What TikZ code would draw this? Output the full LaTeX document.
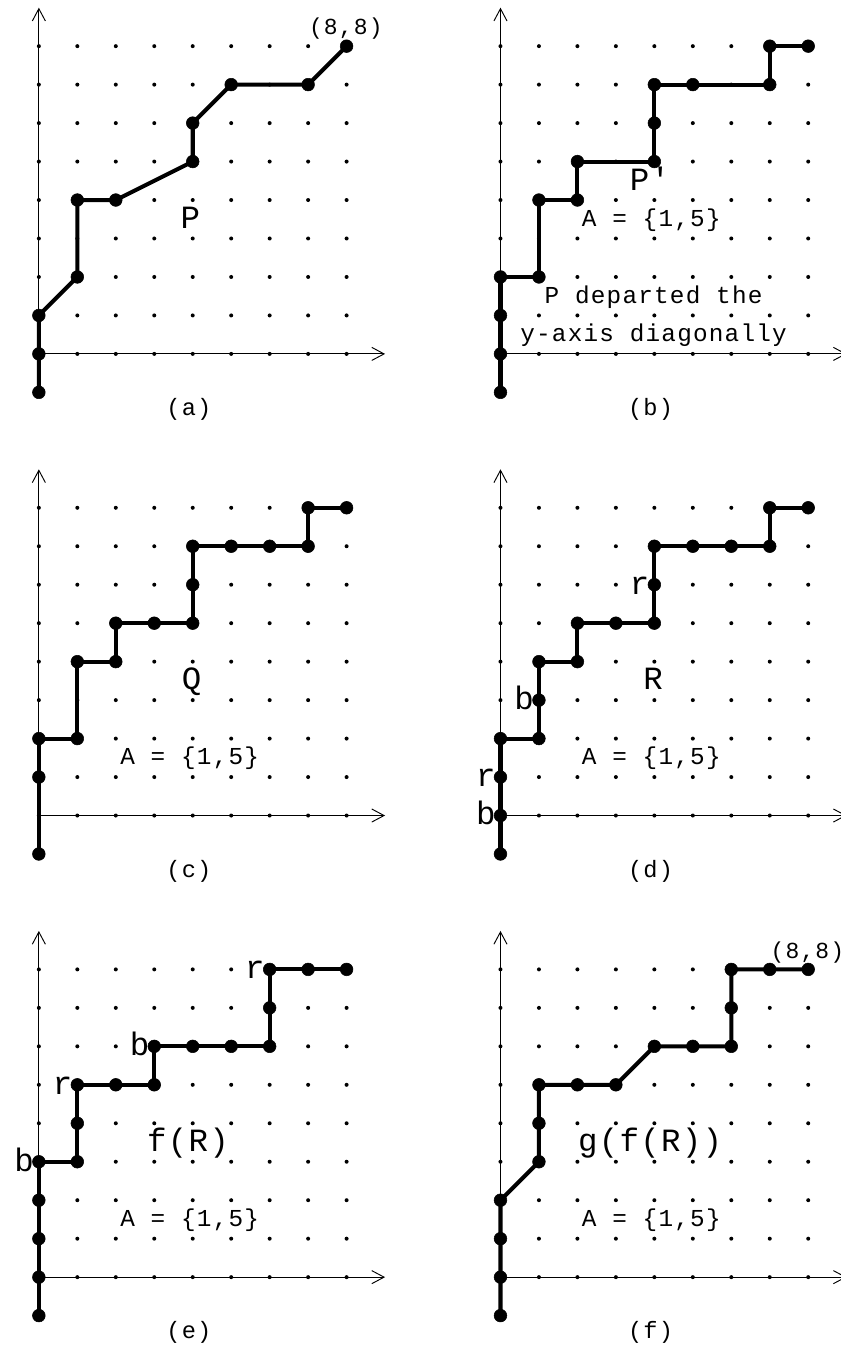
\documentclass[tikz,border=0pt]{standalone}
\usepackage{fontspec}
\usepackage{tikz}
\usetikzlibrary{arrows.meta}
\newfontfamily\figtt[LetterSpace=5]{Liberation Mono}
\newfontfamily\bigtt[LetterSpace=4]{Liberation Mono}
\tikzset{
  axis/.style={line width=0.7pt,-{Straight Barb[length=3.2mm,width=3.4mm]}},
  walk/.style={line width=3pt,line join=round,mark=*,mark size=4.7pt,mark options={line width=0.4pt}},
  txt/.style={font=\fontsize{18}{20}\selectfont\figtt,inner sep=0pt,anchor=base},
  pname/.style={font=\fontsize{24}{26}\selectfont\bigtt,inner sep=0pt,anchor=base},
  lbl/.style={pname,anchor=base east,xshift=-3.5pt,yshift=-7pt},
  sub/.style={font=\fontsize{17.5}{19}\selectfont\figtt,inner sep=0pt,anchor=base}
}
\newcommand{\lattice}{%
  \foreach \x in {0,...,8}
    \foreach \y in {0,...,8}
      \fill (\x,\y) circle (0.052);
  \draw[axis] (0,0)--(9,0);
  \draw[axis] (0,0)--(0,9);
}

\begin{document}
\begin{tikzpicture}
  \useasboundingbox (-1.01,-25.79) rectangle (20.85,9.20);
  % (a)
  \lattice
  \draw[walk] plot coordinates {(0,-1) (0,0) (0,1) (1,2) (1,4) (2,4) (4,5) (4,6) (5,7) (7,7) (8,8)};
  \node[pname] (a-P) at (3.94,3.26) {P};
  \node[txt,font=\fontsize{17}{19}\selectfont\figtt] (a-end) at (7.98,8.29) {(8,8)};
  \node[sub] (a-cap) at (3.9,-1.6) {(a)};
  % (b)
  \begin{scope}[shift={(12,0)}]
    \lattice
    \draw[walk] plot coordinates {(0,-1) (0,0) (0,1) (0,2) (1,2) (1,4) (2,4) (2,5) (4,5) (4,6) (4,7) (5,7) (7,7) (7,8) (8,8)};
    \node[pname] (b-P) at (3.89,4.24) {P'};
    \node[txt] (b-A) at (3.92,3.31) {A = \{1,5\}};
    \node[txt] (b-note1) at (3.98,1.32) {P departed the};
    \node[txt] (b-note2) at (3.98,0.32) {y-axis diagonally};
    \node[sub] (b-cap) at (3.9,-1.6) {(b)};
  \end{scope}
  % (c)
  \begin{scope}[shift={(0,-12)}]
    \lattice
    \draw[walk] plot coordinates {(0,-1) (0,1) (0,2) (1,2) (1,4) (2,4) (2,5) (3,5) (4,5) (4,6) (4,7) (5,7) (6,7) (7,7) (7,8) (8,8)};
    \node[pname] (c-Q) at (3.97,3.28) {Q};
    \node[txt] (c-A) at (3.92,1.32) {A = \{1,5\}};
    \node[sub] (c-cap) at (3.9,-1.6) {(c)};
  \end{scope}
  % (d)
  \begin{scope}[shift={(12,-12)}]
    \lattice
    \draw[walk] plot coordinates {(0,-1) (0,0) (0,1) (0,2) (1,2) (1,3) (1,4) (2,4) (2,5) (3,5) (4,5) (4,6) (4,7) (5,7) (6,7) (7,7) (7,8) (8,8)};
    \node[lbl] (d-b1) at (0,0) {b};
    \node[lbl] (d-r1) at (0,1) {r};
    \node[lbl] (d-b2) at (1,3) {b};
    \node[lbl] (d-r2) at (4,6) {r};
    \node[pname] (d-R) at (3.97,3.27) {R};
    \node[txt] (d-A) at (3.92,1.32) {A = \{1,5\}};
    \node[sub] (d-cap) at (3.9,-1.6) {(d)};
  \end{scope}
  % (e)
  \begin{scope}[shift={(0,-24)}]
    \lattice
    \draw[walk] plot coordinates {(0,-1) (0,0) (0,1) (0,2) (0,3) (1,3) (1,4) (1,5) (2,5) (3,5) (3,6) (4,6) (5,6) (6,6) (6,7) (6,8) (7,8) (8,8)};
    \node[lbl] (e-b1) at (0,3) {b};
    \node[lbl] (e-r1) at (1,5) {r};
    \node[lbl] (e-b2) at (3,6) {b};
    \node[lbl] (e-r2) at (6,8) {r};
    \node[pname] (e-fR) at (3.88,3.26) {f(R)};
    \node[txt] (e-A) at (3.92,1.32) {A = \{1,5\}};
    \node[sub] (e-cap) at (3.9,-1.6) {(e)};
  \end{scope}
  % (f)
  \begin{scope}[shift={(12,-24)}]
    \lattice
    \draw[walk] plot coordinates {(0,-1) (0,0) (0,1) (0,2) (1,3) (1,4) (1,5) (2,5) (3,5) (4,6) (5,6) (6,6) (6,7) (6,8) (7,8) (8,8)};
    \node[pname] (f-gfR) at (3.89,3.26) {g(f(R))};
    \node[txt] (f-A) at (3.92,1.32) {A = \{1,5\}};
    \node[txt,font=\fontsize{17}{19}\selectfont\figtt] (f-end) at (7.98,8.29) {(8,8)};
    \node[sub] (f-cap) at (3.9,-1.6) {(f)};
  \end{scope}
\end{tikzpicture}
\end{document}
